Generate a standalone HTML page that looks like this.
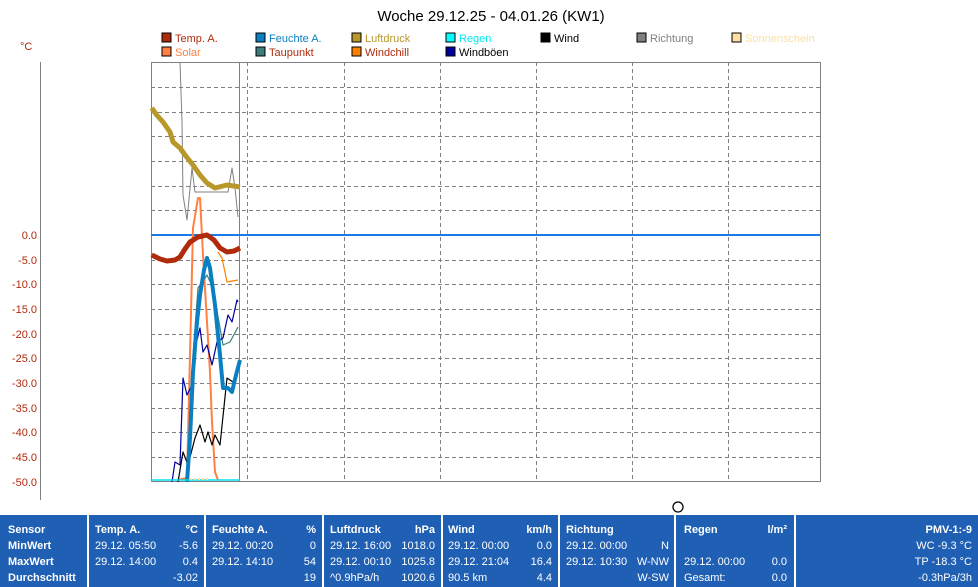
<!DOCTYPE html>
<html><head><meta charset="utf-8"><style>
body{margin:0;background:#fff;}
svg{display:block;font-family:"Liberation Sans",sans-serif;}
</style></head><body>
<svg width="978" height="587" viewBox="0 0 978 587" xmlns="http://www.w3.org/2000/svg">
<rect width="978" height="587" fill="#fff"/>
<text x="491" y="21" font-size="15" text-anchor="middle" fill="#000">Woche 29.12.25 - 04.01.26 (KW1)</text>
<g font-size="11">
<rect x="162" y="33" width="9" height="9" fill="#b02a0c" stroke="#000"/><text x="175" y="42" fill="#b02a0c">Temp. A.</text>
<rect x="256" y="33" width="9" height="9" fill="#0a7fc2" stroke="#000"/><text x="269" y="42" fill="#0a7fc2">Feuchte A.</text>
<rect x="352" y="33" width="9" height="9" fill="#b8982a" stroke="#000"/><text x="365" y="42" fill="#b8982a">Luftdruck</text>
<rect x="446" y="33" width="9" height="9" fill="#00ffff" stroke="#000"/><text x="459" y="42" fill="#00e8f0">Regen</text>
<rect x="541" y="33" width="9" height="9" fill="#000" stroke="#000"/><text x="554" y="42" fill="#000">Wind</text>
<rect x="637" y="33" width="9" height="9" fill="#808080" stroke="#000"/><text x="650" y="42" fill="#808080">Richtung</text>
<rect x="732" y="33" width="9" height="9" fill="#fde0a0" stroke="#000"/><text x="745" y="42" fill="#fde0a0">Sonnenschein</text>
<rect x="162" y="47" width="9" height="9" fill="#ff8040" stroke="#000"/><text x="175" y="56" fill="#ff8040">Solar</text>
<rect x="256" y="47" width="9" height="9" fill="#3c7c7c" stroke="#000"/><text x="269" y="56" fill="#b02a0c">Taupunkt</text>
<rect x="352" y="47" width="9" height="9" fill="#ff8000" stroke="#000"/><text x="365" y="56" fill="#b02a0c">Windchill</text>
<rect x="446" y="47" width="9" height="9" fill="#00009c" stroke="#000"/><text x="459" y="56" fill="#000">Windböen</text>
</g>
<text x="20" y="50" font-size="11" fill="#b02a0c">°C</text>
<line x1="40.5" y1="62" x2="40.5" y2="500" stroke="#808080"/>
<g font-size="11" fill="#b02a0c" text-anchor="end">
<text x="37" y="239">0.0</text><text x="37" y="264">-5.0</text><text x="37" y="288">-10.0</text><text x="37" y="313">-15.0</text><text x="37" y="338">-20.0</text><text x="37" y="362">-25.0</text><text x="37" y="387">-30.0</text><text x="37" y="412">-35.0</text><text x="37" y="436">-40.0</text><text x="37" y="461">-45.0</text><text x="37" y="486">-50.0</text>
</g>
<g stroke="#808080" stroke-dasharray="4,3">
<line x1="151" y1="87.5" x2="820" y2="87.5"/><line x1="151" y1="112.5" x2="820" y2="112.5"/><line x1="151" y1="136.5" x2="820" y2="136.5"/><line x1="151" y1="161.5" x2="820" y2="161.5"/><line x1="151" y1="186.5" x2="820" y2="186.5"/><line x1="151" y1="210.5" x2="820" y2="210.5"/><line x1="151" y1="260.5" x2="820" y2="260.5"/><line x1="151" y1="284.5" x2="820" y2="284.5"/><line x1="151" y1="309.5" x2="820" y2="309.5"/><line x1="151" y1="334.5" x2="820" y2="334.5"/><line x1="151" y1="358.5" x2="820" y2="358.5"/><line x1="151" y1="383.5" x2="820" y2="383.5"/><line x1="151" y1="408.5" x2="820" y2="408.5"/><line x1="151" y1="432.5" x2="820" y2="432.5"/><line x1="151" y1="457.5" x2="820" y2="457.5"/>
<line x1="247.5" y1="62" x2="247.5" y2="481"/><line x1="344.5" y1="62" x2="344.5" y2="481"/><line x1="440.5" y1="62" x2="440.5" y2="481"/><line x1="536.5" y1="62" x2="536.5" y2="481"/><line x1="632.5" y1="62" x2="632.5" y2="481"/><line x1="728.5" y1="62" x2="728.5" y2="481"/>
</g>
<rect x="151.5" y="62.5" width="669" height="419" fill="none" stroke="#808080"/>
<line x1="239.5" y1="62" x2="239.5" y2="481" stroke="#808080"/>
<line x1="151" y1="235" x2="820" y2="235" stroke="#1a7ae8" stroke-width="2"/>
<g fill="none" stroke-linejoin="round">
<polyline stroke="#808080" stroke-width="1" points="180,62 182,122 183,195 187,220 192,168 195,192 215,192 228,192 232,168 235,188 238,217"/>
<polyline stroke="#b8982a" stroke-width="5" points="151.7,108 156.7,115 163,122 170,132 173,142 180,148 185,155 193,165 200,175 207,183 215,188 227,185 240,187"/>
<polyline stroke="#ff8000" stroke-width="1.2" points="218,252 222,258 227,282 238,280"/>
<polyline stroke="#ff8040" stroke-width="2" points="177,480 187,478 190,355 193,228 198,198 200,198 203,255 207,322 210,372 212,422 215,472 218,480"/>
<polyline stroke="#b02a0c" stroke-width="5" points="151.7,255 160,259 167,261 175,260 180,257 185,249 190,242 198,237 207,235 214,240 220,248 227,252 234,251 240,248"/>
<polyline stroke="#3c7c7c" stroke-width="1.2" points="193,355 198,288 207,275 213,288 220,328 223,345 230,342 238,327"/>
<polyline stroke="#00009c" stroke-width="1.2" points="172,482 175,462 180,465 183,378 187,395 192,385 195,348 200,328 203,352 207,345 212,365 217,342 223,338 228,315 232,322 237,300 238,302"/>
<polyline stroke="#000" stroke-width="1.2" points="178,482 183,452 188,465 195,438 200,425 205,442 208,432 212,445 215,435 220,445 227,378 233,382"/>
<polyline stroke="#0a7fc2" stroke-width="4" points="187,482 190,438 193,372 197,322 200,295 204,270 207,258 210,268 215,305 220,355 223,388 228,388 232,392 236,375 240,360"/>
<line x1="151" y1="480" x2="240" y2="480" stroke="#00e0f0" stroke-width="1.5"/>
<line x1="190" y1="479" x2="208" y2="479" stroke="#fde0a0" stroke-width="2" stroke-dasharray="2,2"/>
</g>
<circle cx="678" cy="507" r="5" fill="#fff" stroke="#000" stroke-width="1.3"/>
<rect x="0" y="515" width="978" height="72" fill="#1f5fb4"/>
<g fill="#fff"><rect x="87" y="515" width="2" height="72"/><rect x="204" y="515" width="2" height="72"/><rect x="322" y="515" width="2" height="72"/><rect x="441" y="515" width="2" height="72"/><rect x="558" y="515" width="2" height="72"/><rect x="674" y="515" width="2" height="72"/><rect x="794" y="515" width="2" height="72"/></g>
<g font-size="11" fill="#fff">
<g font-weight="bold"><text x="8" y="533">Sensor</text><text x="8" y="549">MinWert</text><text x="8" y="565">MaxWert</text><text x="8" y="581">Durchschnitt</text>
<text x="95" y="533">Temp. A.</text><text x="198" y="533" text-anchor="end">°C</text>
<text x="212" y="533">Feuchte A.</text><text x="316" y="533" text-anchor="end">%</text>
<text x="330" y="533">Luftdruck</text><text x="435" y="533" text-anchor="end">hPa</text>
<text x="448" y="533">Wind</text><text x="552" y="533" text-anchor="end">km/h</text>
<text x="566" y="533">Richtung</text>
<text x="684" y="533">Regen</text><text x="787" y="533" text-anchor="end">l/m²</text>
<text x="972" y="533" text-anchor="end">PMV-1:-9</text></g>
<text x="95" y="549">29.12.  05:50</text><text x="198" y="549" text-anchor="end">-5.6</text>
<text x="95" y="565">29.12.  14:00</text><text x="198" y="565" text-anchor="end">0.4</text>
<text x="198" y="581" text-anchor="end">-3.02</text>
<text x="212" y="549">29.12.  00:20</text><text x="316" y="549" text-anchor="end">0</text>
<text x="212" y="565">29.12.  14:10</text><text x="316" y="565" text-anchor="end">54</text>
<text x="316" y="581" text-anchor="end">19</text>
<text x="330" y="549">29.12.  16:00</text><text x="435" y="549" text-anchor="end">1018.0</text>
<text x="330" y="565">29.12.  00:10</text><text x="435" y="565" text-anchor="end">1025.8</text>
<text x="330" y="581">^0.9hPa/h</text><text x="435" y="581" text-anchor="end">1020.6</text>
<text x="448" y="549">29.12.  00:00</text><text x="552" y="549" text-anchor="end">0.0</text>
<text x="448" y="565">29.12.  21:04</text><text x="552" y="565" text-anchor="end">16.4</text>
<text x="448" y="581">90.5 km</text><text x="552" y="581" text-anchor="end">4.4</text>
<text x="566" y="549">29.12.  00:00</text><text x="669" y="549" text-anchor="end">N</text>
<text x="566" y="565">29.12.  10:30</text><text x="669" y="565" text-anchor="end">W-NW</text>
<text x="669" y="581" text-anchor="end">W-SW</text>
<text x="684" y="565">29.12.  00:00</text><text x="787" y="565" text-anchor="end">0.0</text>
<text x="684" y="581">Gesamt:</text><text x="787" y="581" text-anchor="end">0.0</text>
<text x="972" y="549" text-anchor="end">WC -9.3 °C</text>
<text x="972" y="565" text-anchor="end">TP -18.3 °C</text>
<text x="972" y="581" text-anchor="end">-0.3hPa/3h</text>
</g>
</svg>
</body></html>
